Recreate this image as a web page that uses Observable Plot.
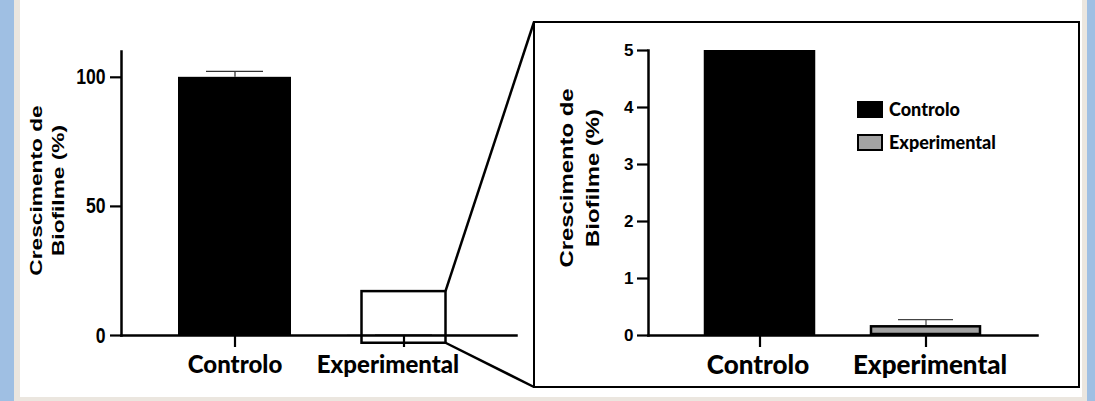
<!DOCTYPE html>
<html>
<head>
<meta charset="utf-8">
<script src="https://cdn.jsdelivr.net/npm/d3@7"></script>
<script src="https://cdn.jsdelivr.net/npm/@observablehq/plot@0.6"></script>
<style>
  body { margin: 0; }
  #page { position: relative; width: 1095px; height: 401px; background: #9fbfe3; overflow: hidden; }
  .abs { position: absolute; }
  #legend { font-family: Lato, sans-serif; font-weight: 900; font-size: 18px; color: #000; }
  #legend .row { position: absolute; display: flex; align-items: center; white-space: nowrap; }
  #legend .sw { width: 26px; height: 17px; box-sizing: border-box; margin-right: 6px; }
</style>
</head>
<body>
<div id="page">
  <div class="abs" style="left:14px;top:0;width:1073px;height:401px;background:#ebe6df"></div>
  <div class="abs" style="left:20px;top:0;width:1062px;height:397px;background:#fff"></div>
  <div id="left" class="abs" style="left:20px;top:0"></div>
  <div id="box" class="abs" style="left:533px;top:21px;width:547px;height:367px;border:2px solid #000;box-sizing:border-box"></div>
  <div id="right" class="abs" style="left:535px;top:23px"></div>
  <div id="legend" class="abs" style="left:857px;top:0"></div>
  <svg id="overlay" class="abs" width="1095" height="401" style="left:0;top:0;pointer-events:none;overflow:visible"></svg>
</div>
<script>
// ---- data ----
const categories = ["Controlo", "Experimental"];
const means = [100, 0.17];          // % biofilm growth
const errors = [2.3, 0.11];         // error bar (upper)
const zoomRange = [-3, 17];         // region of the left chart shown enlarged
const leftTicks = [0, 50, 100];
const rightTicks = [0, 1, 2, 3, 4, 5];
const leftDomain = [0, 110];
const rightDomain = [0, 5];
const yTitle = "Crescimento de\nBiofilme (%)";
const legendLabels = ["Controlo", "Experimental"];

const table = categories.map((c, i) => ({cat: c, mean: means[i], top: means[i] + errors[i]}));
const zoomBox = [{cat: "Experimental", lo: zoomRange[0], hi: zoomRange[1]}];
const colors = ["#000000", "#a3a3a3"];
const zoomInset = 14.5;

function squish(svg, test, sx, sy) {
  svg.querySelectorAll("text").forEach(t => {
    if (test(t)) t.setAttribute("transform", (t.getAttribute("transform") || "") + ` scale(${sx},${sy})`);
  });
}
function shiftLabel(svg, label, dx) {
  svg.querySelectorAll('g[aria-label="x-axis tick label"] text').forEach(t => {
    if (t.textContent === label) t.setAttribute("transform", (t.getAttribute("transform") || "") + ` translate(${dx},0)`);
  });
}

// ---- left chart ----
const left = Plot.plot({
  width: 500, height: 397,
  marginLeft: 101, marginRight: 4, marginTop: 51, marginBottom: 62,
  style: {background: "transparent", color: "#000", fontFamily: "Liberation Sans, Arial, sans-serif", overflow: "visible"},
  x: {domain: categories, padding: 0.333, label: null},
  y: {domain: leftDomain, label: null},
  color: {domain: categories, range: colors},
  marks: [
    Plot.ruleX(table, {x: "cat", y1: "mean", y2: "top", stroke: "#333", strokeWidth: 1.3}),
    Plot.tickY(table, {x: "cat", y: "top", stroke: "#333", strokeWidth: 1.3, inset: 28}),
    Plot.barY(table, {x: "cat", y: "mean", fill: "cat"}),
    Plot.barY(zoomBox, {x: "cat", y1: "lo", y2: "hi", fill: "none", stroke: "#000", strokeWidth: 2.5, insetLeft: zoomInset, insetRight: zoomInset}),
    Plot.axisY({ticks: leftTicks, tickSize: 11, tickPadding: 5, fontSize: 22, fontWeight: "bold", strokeWidth: 2.2, label: null}),
    Plot.axisX({tickSize: 12, tickPadding: 8, fontSize: 24, fontFamily: "Lato, sans-serif", fontWeight: 900, strokeWidth: 2.2, label: null}),
    Plot.frame({anchor: "left", strokeWidth: 2.5}),
    Plot.frame({anchor: "bottom", strokeWidth: 2.5}),
    Plot.text([yTitle], {frameAnchor: "left", textAnchor: "middle", rotate: -90, dx: -76, dy: -3, fontSize: 22.7, fontWeight: "bold", lineHeight: 1.28, lineAnchor: "middle"})
  ]
});
squish(left, t => t.closest('g[aria-label="y-axis tick label"]'), 0.8, 1);
squish(left, t => t.textContent.includes("Crescimento"), 1, 0.76);
shiftLabel(left, "Experimental", -16);
document.getElementById("left").append(left);

// ---- right (zoomed) chart ----
const right = Plot.plot({
  width: 543, height: 363,
  marginLeft: 113, marginRight: 41, marginTop: 27, marginBottom: 51,
  style: {background: "transparent", color: "#000", fontFamily: "Liberation Sans, Arial, sans-serif", overflow: "visible"},
  x: {domain: categories, padding: 0.33, label: null},
  y: {domain: rightDomain, label: null},
  color: {domain: categories, range: colors},
  marks: [
    Plot.ruleX(table, {x: "cat", y1: "mean", y2: "top", stroke: "#444", strokeWidth: 1.2, clip: true}),
    Plot.tickY(table, {x: "cat", y: "top", stroke: "#444", strokeWidth: 1.2, inset: 28, clip: true}),
    Plot.barY(table, {x: "cat", y: "mean", fill: "cat", stroke: "#000", strokeWidth: 2.5, inset: 1, clip: true}),
    Plot.axisY({ticks: rightTicks, tickFormat: "d", tickSize: 11, tickPadding: 4, fontSize: 17, fontWeight: "bold", strokeWidth: 2.2, label: null}),
    Plot.axisX({tickSize: 12, tickPadding: 8, fontSize: 26, fontFamily: "Lato, sans-serif", fontWeight: 900, strokeWidth: 2.2, label: null}),
    Plot.frame({anchor: "left", strokeWidth: 2.5}),
    Plot.frame({anchor: "bottom", strokeWidth: 2.5}),
    Plot.text([yTitle], {frameAnchor: "left", textAnchor: "middle", rotate: -90, dx: -71, dy: -15, fontSize: 23.9, fontWeight: "bold", lineHeight: 1.36, lineAnchor: "middle"})
  ]
});
squish(right, t => t.textContent.includes("Crescimento"), 1, 0.8);
shiftLabel(right, "Controlo", -2);
shiftLabel(right, "Experimental", 4);
document.getElementById("right").append(right);

// ---- legend ----
const legend = document.getElementById("legend");
const rowTops = [98, 131];
legendLabels.forEach((lab, i) => {
  const row = document.createElement("div");
  row.className = "row";
  row.style.top = rowTops[i] + "px";
  const sw = document.createElement("div");
  sw.className = "sw";
  sw.style.background = colors[i];
  sw.style.border = i ? "2.5px solid #000" : "none";
  const tx = document.createElement("span");
  tx.textContent = lab;
  row.append(sw, tx);
  legend.append(row);
});

// ---- zoom connector lines ----
const xs = left.scale("x"), ys = left.scale("y");
const leftOffset = document.getElementById("left").offsetLeft;
const boxEl = document.getElementById("box");
const rx = leftOffset + xs.apply("Experimental") + xs.bandwidth - zoomInset;
const ryTop = ys.apply(zoomRange[1]), ryBot = ys.apply(zoomRange[0]);
const bx = boxEl.offsetLeft + 1, byTop = boxEl.offsetTop + 1, byBot = boxEl.offsetTop + boxEl.offsetHeight - 1;
const ov = d3.select("#overlay");
[[rx, ryTop, bx, byTop], [rx, ryBot, bx, byBot]].forEach(([x1, y1, x2, y2]) => {
  ov.append("line").attr("x1", x1).attr("y1", y1).attr("x2", x2).attr("y2", y2)
    .attr("stroke", "#000").attr("stroke-width", 2.5);
});
</script>
</body>
</html>
